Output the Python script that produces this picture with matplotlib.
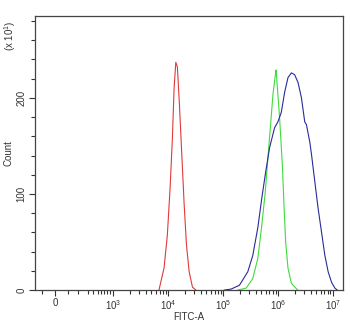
import numpy as np
import matplotlib
matplotlib.use("Agg")
import matplotlib.pyplot as plt
from matplotlib.ticker import FixedLocator, NullFormatter

plt.rcParams['font.family'] = ['Liberation Sans', 'DejaVu Sans']
plt.rcParams['mathtext.fontset'] = 'custom'
plt.rcParams['mathtext.rm'] = 'Liberation Sans'
plt.rcParams['mathtext.it'] = 'Liberation Sans'

# histogram traces: log10(FITC-A) and count (x10)
red_log = [3.835, 3.927, 3.987, 4.037, 4.079, 4.110, 4.141, 4.170, 4.207,
           4.250, 4.293, 4.335, 4.384, 4.444, 4.506]
red_cnt = [0, 23, 57, 106, 158, 210, 237, 232, 193, 141, 89, 47, 19, 3, 0]

green_log = [5.267, 5.420, 5.541, 5.633, 5.706, 5.768, 5.815, 5.865, 5.907,
             5.956, 5.965, 6.029, 6.079, 6.108, 6.139, 6.181, 6.243, 6.358]
green_cnt = [0, 2, 12, 33, 68, 102, 137, 172, 203, 226, 229, 179, 130, 89,
             50, 23, 7, 0]

blue_log = [5.024, 5.146, 5.298, 5.450, 5.541, 5.633, 5.706, 5.768, 5.846,
            5.938, 5.998, 6.060, 6.121, 6.181, 6.243, 6.303, 6.364, 6.426,
            6.486, 6.517, 6.578, 6.609, 6.669, 6.729, 6.792, 6.852, 6.912,
            6.974, 7.035, 7.077]
blue_cnt = [0, 1, 5, 19, 36, 65, 96, 120, 148, 169, 175, 185, 206, 221, 226,
            224, 216, 200, 175, 172, 154, 141, 113, 85, 60, 36, 19, 8, 2, 0]

x_major = [0, 1e3, 1e4, 1e5, 1e6, 1e7]
x_labels = ['0', r'$10^3$', r'$10^4$', r'$10^5$', r'$10^6$', r'$10^7$']
y_major = [0, 100, 200]

fig = plt.figure(figsize=(3.5, 3.23), dpi=100)
ax = fig.add_axes([0.1, 0.102, 0.88, 0.848])

ax.plot(10 ** np.array(red_log), red_cnt, color='#e03a3a', lw=0.8)
ax.plot(10 ** np.array(green_log), green_cnt, color='#3ddc3d', lw=0.8)
ax.plot(10 ** np.array(blue_log), blue_cnt, color='#2a2a9a', lw=0.8)

ax.set_xscale('symlog', linthresh=1000, linscale=0.95)
ax.set_xlim(-345, 1.52e7)
ax.set_ylim(0, 285)

ax.set_xticks(x_major)
ax.set_xticklabels(x_labels)
minor = [-220, 225, 400, 560, 660, 740, 800, 850, 900, 950]
for d in range(3, 7):
    minor += [k * 10 ** d for k in range(2, 10)]
ax.xaxis.set_minor_locator(FixedLocator(minor))
ax.xaxis.set_minor_formatter(NullFormatter())

ax.set_yticks(y_major)
ax.yaxis.set_minor_locator(FixedLocator(np.arange(20, 285, 20)))
for lab in ax.get_yticklabels():
    lab.set_rotation(90)
    lab.set_va('center')

ax.tick_params(which='both', direction='out', colors='#333333', labelsize=7,
               width=0.8, labelcolor='#333333')
ax.tick_params(which='major', length=4)
ax.tick_params(which='minor', length=3)
ax.tick_params(axis='y', pad=2)
ax.tick_params(axis='x', pad=2)

for s in ax.spines.values():
    s.set_color('#444444')
    s.set_linewidth(0.9)

ax.set_xlabel('FITC-A', fontsize=7, color='#333333', labelpad=0)
ax.set_ylabel('Count', fontsize=7, color='#333333', labelpad=2)
fig.text(0.03, 0.89, r'(x 10$^1$)', rotation=90, fontsize=7,
         color='#333333', ha='center', va='center')

fig.savefig('out.png', dpi=100)
